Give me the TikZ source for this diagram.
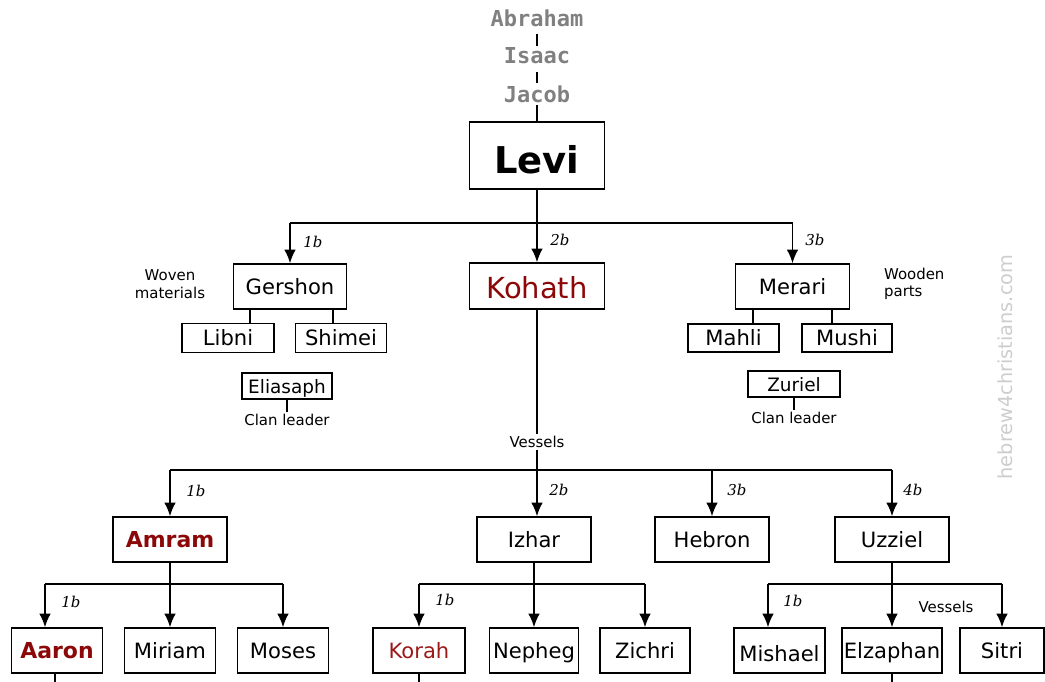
\documentclass[tikz,border=0pt]{standalone}
\usepackage{fontspec}
\setmainfont{DejaVu Sans}
\newfontfamily\ancfont{DejaVu Sans Mono}
\newfontfamily\numfont{DejaVu Serif}
\usetikzlibrary{arrows.meta}
\definecolor{rouge}{RGB}{140,8,8}
\definecolor{rougeclair}{RGB}{155,25,25}
\definecolor{gris}{RGB}{128,128,128}
\definecolor{grisclair}{RGB}{205,205,205}

\begin{document}
\begin{tikzpicture}[x=0.02cm,y=-0.02cm,
  boite/.style={draw,line width=0.9pt,inner sep=0pt,font=\fontsize{12}{14}\selectfont,
    text height=11pt,text depth=2pt,minimum height=0.9cm},
  larg/.style={minimum width={#1*0.02cm}},
  haut/.style={minimum height={#1*0.02cm}},
  lien/.style={line width=0.9pt},
  fleche/.style={line width=0.9pt,-{Latex[length=0.27cm,width=0.23cm]}},
  anc/.style={text=gris,inner sep=1pt,font=\ancfont\bfseries\fontsize{12.5}{14}\selectfont},
  rang/.style={anchor=west,inner sep=0pt,font=\numfont\itshape\fontsize{8.5}{9}\selectfont},
  note/.style={inner sep=1pt,font=\fontsize{8.5}{10}\selectfont}]

\useasboundingbox (0,0) rectangle (1045,681);

% Ascendance
\node[anc] (abraham) at (537,18) {Abraham};
\node[anc] (isaac) at (537,56) {Isaac};
\node[anc] (jacob) at (537,94) {Jacob};
\node[boite,larg=135,haut=67,text height=20pt,text depth=0pt,font=\bfseries\fontsize{21}{24}\selectfont] (levi) at (537,155.5) {Levi};
\draw[line width=0.7pt,shorten <=3pt] (abraham) -- (isaac);
\draw[line width=0.7pt,shorten <=3pt] (isaac) -- (jacob);
\draw[line width=0.7pt] (jacob) -- (levi);

% Fils de Levi
\node[boite,larg=113] (gershon) at (290,286.5) {Gershon};
\node[boite,larg=135,haut=46,text height=14pt,text depth=0pt,text=rouge,font=\fontsize{16.5}{19}\selectfont] (kohath) at (537,286) {Kohath};
\node[boite,larg=114] (merari) at (792.5,286.5) {Merari};
\coordinate (barre1) at (537,223);
\draw[fleche] (levi) -- (kohath);
\draw[lien] (gershon.north |- barre1) -- (merari.north |- barre1);
\draw[fleche] (gershon.north |- barre1) -- (gershon);
\draw[fleche] (merari.north |- barre1) -- (merari);
\node[rang] (r1) at (303,242) {1b};
\node[rang] (r2) at (550,240) {2b};
\node[rang] (r3) at (805,240) {3b};
\node[note,align=center] (tissus) at (170,284) {Woven\\materials};
\node[note,align=left,anchor=west] (bois) at (882,284) {Wooden\\parts};

% Gershon
\node[boite,larg=92,haut=29] (libni) at (228,338) {Libni};
\node[boite,larg=91,haut=29] (shimei) at (341,338) {Shimei};
\draw[lien] (libni.north -| 250,0) -- (gershon.south -| 250,0);
\draw[lien] (shimei.north -| 333,0) -- (gershon.south -| 333,0);
\node[boite,larg=90,haut=26,text height=9.5pt,text depth=1.5pt,font=\fontsize{10.5}{12}\selectfont] (eliasaph) at (287,386) {Eliasaph};
\node[note] (chef1) at (287,420) {Clan leader};
\draw[lien] (eliasaph) -- (chef1);

% Merari
\node[boite,larg=91,haut=28] (mahli) at (733.5,338) {Mahli};
\node[boite,larg=90,haut=28] (mushi) at (847,338) {Mushi};
\draw[lien] (mahli.north -| 753,0) -- (merari.south -| 753,0);
\draw[lien] (mushi.north -| 832,0) -- (merari.south -| 832,0);
\node[boite,larg=92,haut=26,text height=9.5pt,text depth=1.5pt,font=\fontsize{10.5}{12}\selectfont] (zuriel) at (794,384) {Zuriel};
\node[note] (chef2) at (794,418) {Clan leader};
\draw[lien] (zuriel) -- (chef2);

% Fils de Kohath
\node[note] (vases) at (537,442) {Vessels};
\draw[lien] (kohath) -- (vases);
\coordinate (barre2) at (537,470);
\draw[lien] (vases) -- (barre2);
\node[boite,larg=114,text=rouge,font=\bfseries\fontsize{12.5}{14}\selectfont] (amram) at (170,539.5) {Amram};
\node[boite,larg=114] (izhar) at (534,539.5) {Izhar};
\node[boite,larg=114] (hebron) at (712,539.5) {Hebron};
\node[boite,larg=114] (uzziel) at (892,539.5) {Uzziel};
\draw[lien] (amram.north |- barre2) -- (uzziel.north |- barre2);
\draw[fleche] (amram.north |- barre2) -- (amram);
\draw[fleche] (barre2) -- (barre2 |- izhar.north);
\draw[fleche] (hebron.north |- barre2) -- (hebron);
\draw[fleche] (uzziel.north |- barre2) -- (uzziel);
\node[rang] (r4) at (186,491) {1b};
\node[rang] (r5) at (549,490) {2b};
\node[rang] (r6) at (727,490) {3b};
\node[rang] (r7) at (903,490) {4b};

% Petits-fils
\coordinate (bas) at (0,700);
\node[boite,larg=91,text=rouge,font=\bfseries\fontsize{12.5}{14}\selectfont] (aaron) at (57,650.5) {Aaron};
\node[boite,larg=91] (miriam) at (170,650.5) {Miriam};
\node[boite,larg=91] (moses) at (283,650.5) {Moses};
\coordinate (gA) at (45,584);
\draw[lien] (gA) -- (moses.north |- gA);
\draw[fleche] (gA) -- (gA |- aaron.north);
\draw[fleche] (amram) -- (miriam);
\draw[fleche] (moses.north |- gA) -- (moses);
\node[rang] (r8) at (61,602) {1b};
\draw[lien] (aaron.south -| 55,0) -- (bas -| 55,0);

\node[boite,larg=92,text=rougeclair] (korah) at (419,650.5) {Korah};
\node[boite,larg=89] (nepheg) at (534,650.5) {Nepheg};
\node[boite,larg=90] (zichri) at (645,650.5) {Zichri};
\coordinate (gI) at (534,584);
\draw[lien] (korah.north |- gI) -- (zichri.north |- gI);
\draw[fleche] (korah.north |- gI) -- (korah);
\draw[fleche] (izhar) -- (nepheg);
\draw[fleche] (zichri.north |- gI) -- (zichri);
\node[rang] (r9) at (435,600) {1b};
\draw[lien] (korah.south) -- (korah.south |- bas);

\node[boite,larg=91] (mishael) at (779.5,650.5) {\raisebox{-1.5pt}{Mishael}};
\node[boite,larg=100] (elzaphan) at (892,650.5) {Elzaphan};
\node[boite,larg=84] (sitri) at (1002,650.5) {Sitri};
\coordinate (gU) at (768,584);
\draw[lien] (gU) -- (sitri.north |- gU);
\draw[fleche] (gU) -- (gU |- mishael.north);
\draw[fleche] (uzziel) -- (elzaphan);
\draw[fleche] (sitri.north |- gU) -- (sitri);
\node[rang] (r10) at (783,601) {1b};
\node[note] (vases2) at (946,607) {Vessels};
\draw[lien] (elzaphan.south) -- (elzaphan.south |- bas);

% Filigrane
\node[rotate=90,text=grisclair,font=\fontsize{11}{13}\selectfont] (filigrane) at (1005,367) {hebrew4christians.com};

\end{tikzpicture}
\end{document}
